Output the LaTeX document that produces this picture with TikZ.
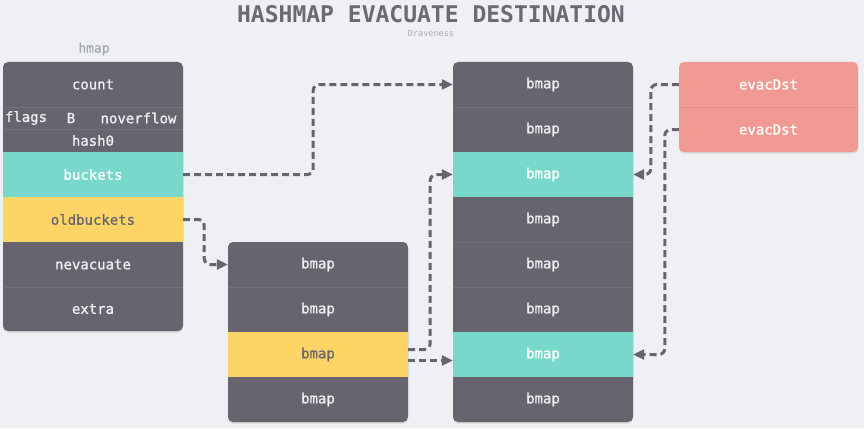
\documentclass[tikz,border=0pt]{standalone}
\usepackage{fontspec}
\setmonofont{DejaVu Sans Mono}
\usetikzlibrary{arrows.meta,shadows,calc}
\definecolor{bg}{HTML}{EFF0F3}
\definecolor{dark}{HTML}{67646F}
\definecolor{teal}{HTML}{78D8CB}
\definecolor{yel}{HTML}{FDD566}
\definecolor{salmon}{HTML}{F19A94}
\definecolor{sepdark}{HTML}{72707A}
\definecolor{sepsal}{HTML}{E3908B}
\definecolor{titlegray}{HTML}{6B6A74}
\definecolor{subgray}{HTML}{A3AAB2}
\definecolor{lighttext}{HTML}{F0F0F2}
\newcommand{\lblfont}{\fontsize{14}{14}\selectfont\ttfamily\addfontfeature{FakeBold=0.9}}
\tikzset{
  x=1pt, y=-1pt,
  boxbg/.style={rounded corners=5pt, minimum width=180pt, inner sep=0pt,
    drop shadow={opacity=0.22, shadow xshift=0pt, shadow yshift=-1.5pt}},
  rowcell/.style={minimum width=180pt, minimum height=45pt, inner sep=0pt,
    font=\lblfont, text=lighttext},
  tealrow/.style={rowcell, fill=teal, text=white},
  yelrow/.style={rowcell, fill=yel, text=dark},
  lbl/.style={font=\lblfont, text=lighttext, inner sep=0pt},
  sep/.style={draw=sepdark, line width=0.5pt},
  conn/.style={draw=dark, line width=3pt, dash pattern=on 7pt off 4pt,
    rounded corners=6pt, -{Triangle[length=11pt,width=10pt]}},
}
\begin{document}
\begin{tikzpicture}
\fill[bg] (0,0) rectangle (864,428);
\useasboundingbox (0,0) rectangle (864,428);
% titles
\node[font=\fontsize{23}{23}\selectfont\ttfamily\bfseries, text=titlegray] (title) at (431,14) {HASHMAP EVACUATE DESTINATION};
\node[font=\fontsize{8.5}{8.5}\selectfont\ttfamily, text=subgray] (author) at (431,33) {Draveness};
\node[font=\fontsize{13}{13}\selectfont\ttfamily\addfontfeature{FakeBold=0.9}, text=subgray] (hmaplbl) at (94,49) {hmap};
% hmap box
\node[boxbg, fill=dark, minimum height=269pt] (hmapbox) at (93,196.5) {};
\node[rowcell] (count) at (93,84.5) {count};
\node[rowcell, minimum height=22pt] (flagsrow) at (93,118) {};
\node[lbl] (flags) at (26,118) {flags};
\node[lbl] (B) at (71,118) {B};
\node[lbl] (noverflow) at (138.5,118) {noverflow};
\node[rowcell, minimum height=23pt] (hash0) at (93,140.5) {hash0};
\node[tealrow] (buckets) at (93,174.5) {buckets};
\node[yelrow] (oldbuckets) at (93,219.5) {oldbuckets};
\node[rowcell] (nevacuate) at (93,264.5) {nevacuate};
\node[rowcell] (extra) at (93,309) {extra};
\draw[sep] (count.south west) -- (count.south east);
\draw[sep] (flagsrow.south west) -- (flagsrow.south east);
\draw[sep] (nevacuate.south west) -- (nevacuate.south east);
% small bmap
\node[boxbg, fill=dark, minimum height=180pt] (smallbox) at (318,332) {};
\node[rowcell] (s1) at (318,264.5) {bmap};
\node[rowcell] (s2) at (318,309.5) {bmap};
\node[yelrow] (s3) at (318,354.5) {bmap};
\node[rowcell] (s4) at (318,399.5) {bmap};
\draw[sep] (s1.south west) -- (s1.south east);
% big bmap
\node[boxbg, fill=dark, minimum height=360pt] (bigbox) at (543,242) {};
\node[rowcell] (b1) at (543,84.5) {bmap};
\node[rowcell] (b2) at (543,129.5) {bmap};
\node[tealrow] (b3) at (543,174.5) {bmap};
\node[rowcell] (b4) at (543,219.5) {bmap};
\node[rowcell] (b5) at (543,264.5) {bmap};
\node[rowcell] (b6) at (543,309.5) {bmap};
\node[tealrow] (b7) at (543,354.5) {bmap};
\node[rowcell] (b8) at (543,399.5) {bmap};
\draw[sep] (b1.south west) -- (b1.south east);
\draw[sep] (b4.south west) -- (b4.south east);
\draw[sep] (b5.south west) -- (b5.south east);
% evacDst
\node[boxbg, fill=salmon, minimum width=179pt, minimum height=90pt] (evacbox) at (768.5,107) {};
\node[rowcell, minimum width=179pt, text=white] (e1) at (768.5,84.5) {evacDst};
\node[rowcell, minimum width=179pt, text=white] (e2) at (768.5,129.5) {evacDst};
\draw[draw=sepsal, line width=0.5pt] (e1.south west) -- (e1.south east);
% connectors
\draw[conn] (buckets.east) -- ++(130,0) |- (b1.west);
\draw[conn] (oldbuckets.east) -- ++(21,0) |- (s1.west);
\draw[conn] ($(s3.east)+(0,-5)$) -- ++(22,0) |- (b3.west);
\draw[conn] ($(s3.east)+(0,6)$) -- ($(b7.west)+(0,6)$);
\draw[conn] (e1.west) -- ++(-28,0) |- (b3.east);
\draw[conn] (e2.west) -- ++(-14,0) |- (b7.east);
\end{tikzpicture}
\end{document}
